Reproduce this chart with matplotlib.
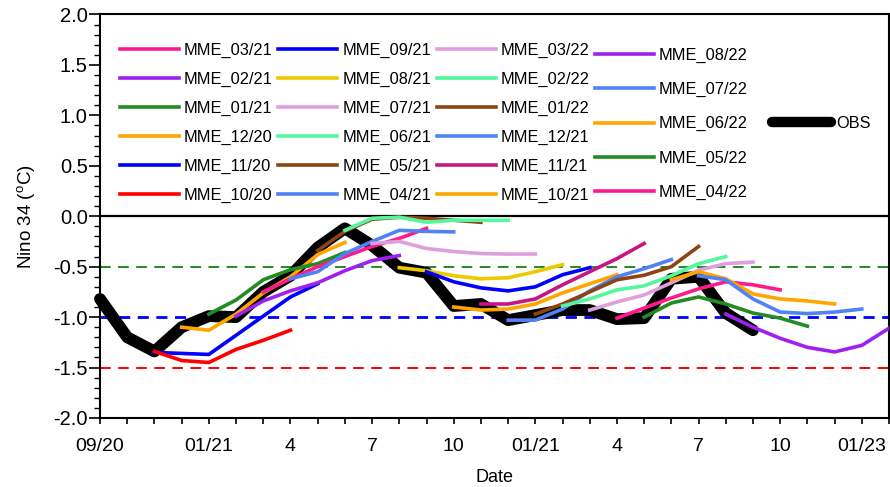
import matplotlib
matplotlib.use("Agg")
import matplotlib.pyplot as plt
from matplotlib.lines import Line2D
from matplotlib.ticker import MultipleLocator

plt.rcParams['font.family'] = ['Liberation Sans', 'DejaVu Sans']
plt.rcParams['mathtext.fontset'] = 'custom'
plt.rcParams['mathtext.rm'] = 'Liberation Sans'

# month index 0 = 09/2020
obs = [-0.82, -1.20, -1.34, -1.10, -0.99, -1.00, -0.75, -0.59, -0.31, -0.12,
       -0.29, -0.51, -0.56, -0.89, -0.87, -1.03, -0.98, -0.93, -0.93, -1.02,
       -1.01, -0.62, -0.60, -0.96, -1.13]

# forecast runs: first plotted month index, then monthly values
start_10_20, mme_10_20 = 2, [-1.34, -1.43, -1.45, -1.32, -1.23, -1.13]
start_11_20, mme_11_20 = 2, [-1.35, -1.36, -1.37, -1.18, -0.99, -0.80, -0.67]
start_12_20, mme_12_20 = 3, [-1.10, -1.13, -0.97, -0.76, -0.60, -0.38, -0.26]
start_01_21, mme_01_21 = 4, [-0.97, -0.83, -0.63, -0.53, -0.47, -0.36]
start_02_21, mme_02_21 = 5, [-0.99, -0.84, -0.74, -0.66, -0.54, -0.44, -0.39]
start_03_21, mme_03_21 = 6, [-0.75, -0.62, -0.50, -0.40, -0.30, -0.22, -0.12]
start_04_21, mme_04_21 = 7, [-0.62, -0.55, -0.37, -0.25, -0.14, -0.15, -0.155]
start_05_21, mme_05_21 = 8, [-0.34, -0.15, -0.03, -0.01, -0.02, -0.04, -0.06]
start_06_21, mme_06_21 = 9, [-0.14, -0.02, -0.01, -0.06, -0.04, -0.04, -0.04]
start_07_21, mme_07_21 = 10, [-0.27, -0.25, -0.32, -0.35, -0.37, -0.375, -0.375]
start_08_21, mme_08_21 = 11, [-0.51, -0.54, -0.59, -0.62, -0.61, -0.55, -0.48]
start_09_21, mme_09_21 = 12, [-0.55, -0.65, -0.71, -0.74, -0.70, -0.58, -0.51]
start_10_21, mme_10_21 = 13, [-0.90, -0.93, -0.92, -0.87, -0.76, -0.67, -0.58]
start_11_21, mme_11_21 = 14, [-0.87, -0.87, -0.82, -0.68, -0.55, -0.42, -0.27]
start_12_21, mme_12_21 = 15, [-1.03, -1.03, -0.92, -0.74, -0.60, -0.52, -0.43]
start_01_22, mme_01_22 = 16, [-0.97, -0.87, -0.75, -0.63, -0.585, -0.50, -0.30]
start_02_22, mme_02_22 = 17, [-0.89, -0.82, -0.73, -0.69, -0.59, -0.47, -0.40]
start_03_22, mme_03_22 = 18, [-0.93, -0.85, -0.78, -0.66, -0.535, -0.47, -0.455]
start_04_22, mme_04_22 = 19, [-1.01, -0.91, -0.81, -0.72, -0.65, -0.68, -0.73]
start_05_22, mme_05_22 = 20, [-1.00, -0.86, -0.80, -0.87, -0.96, -1.01, -1.09]
start_06_22, mme_06_22 = 21, [-0.63, -0.55, -0.62, -0.77, -0.82, -0.84, -0.87]
start_07_22, mme_07_22 = 22, [-0.59, -0.63, -0.82, -0.95, -0.965, -0.95, -0.92]
start_08_22, mme_08_22 = 23, [-0.97, -1.10, -1.21, -1.30, -1.345, -1.28, -1.11]

tick_pos = [0, 4, 7, 10, 13, 16, 19, 22, 25, 28]
tick_lab = ['09/20', '01/21', '4', '7', '10', '01/21', '4', '7', '10', '01/23']

DEEPPINK = '#ff1a8c'
PURPLE = '#a020f0'
GREEN = '#228b22'
ORANGE = '#ffa500'
BLUE = '#0000ff'
RED = '#ff0000'
GOLD = '#eec900'
PLUM = '#dda0dd'
SEAFOAM = '#54f79c'
BROWN = '#8b4513'
CORNFLOWER = '#5082f5'
VIOLETRED = '#c71585'

runs = [
    ('MME_03/21', start_03_21, mme_03_21, DEEPPINK),
    ('MME_02/21', start_02_21, mme_02_21, PURPLE),
    ('MME_01/21', start_01_21, mme_01_21, GREEN),
    ('MME_12/20', start_12_20, mme_12_20, ORANGE),
    ('MME_11/20', start_11_20, mme_11_20, BLUE),
    ('MME_10/20', start_10_20, mme_10_20, RED),
    ('MME_09/21', start_09_21, mme_09_21, BLUE),
    ('MME_08/21', start_08_21, mme_08_21, GOLD),
    ('MME_07/21', start_07_21, mme_07_21, PLUM),
    ('MME_06/21', start_06_21, mme_06_21, SEAFOAM),
    ('MME_05/21', start_05_21, mme_05_21, BROWN),
    ('MME_04/21', start_04_21, mme_04_21, CORNFLOWER),
    ('MME_03/22', start_03_22, mme_03_22, PLUM),
    ('MME_02/22', start_02_22, mme_02_22, SEAFOAM),
    ('MME_01/22', start_01_22, mme_01_22, BROWN),
    ('MME_12/21', start_12_21, mme_12_21, CORNFLOWER),
    ('MME_11/21', start_11_21, mme_11_21, VIOLETRED),
    ('MME_10/21', start_10_21, mme_10_21, ORANGE),
]
runs_2022 = [
    ('MME_08/22', start_08_22, mme_08_22, PURPLE),
    ('MME_07/22', start_07_22, mme_07_22, CORNFLOWER),
    ('MME_06/22', start_06_22, mme_06_22, ORANGE),
    ('MME_05/22', start_05_22, mme_05_22, GREEN),
    ('MME_04/22', start_04_22, mme_04_22, DEEPPINK),
]

fig = plt.figure(figsize=(8.9, 4.87), dpi=100)
ax = fig.add_axes([0.1124, 0.1417, 0.8865, 0.8286])

# threshold lines
ax.axhline(0.0, color='black', lw=1.6, zorder=1)
ax.axhline(-0.5, color=GREEN, lw=1.4, ls=(0, (5.5, 3.8)), zorder=1)
ax.axhline(-1.0, color=BLUE, lw=2.0, ls=(0, (4.0, 2.7)), zorder=1)
ax.axhline(-1.5, color=RED, lw=1.4, ls=(0, (5.5, 3.8)), zorder=1)

obs_line, = ax.plot(range(len(obs)), obs, color='black', lw=8.5,
                    solid_capstyle='round', solid_joinstyle='round',
                    label='OBS', zorder=2, clip_on=False)

handles = {}
# older runs first so later starts sit on top
for label, start, vals, color in sorted(runs + runs_2022, key=lambda r: r[1]):
    x = list(range(start, start + len(vals)))
    ln, = ax.plot(x, vals, color=color, lw=2.6, label=label, zorder=3)
    handles[label] = ln

ax.set_xlim(0, 29)
ax.set_ylim(-2.0, 2.0)
ax.set_xticks(range(30))
ax.set_xticklabels([tick_lab[tick_pos.index(i)] if i in tick_pos else ''
                    for i in range(30)])
ax.yaxis.set_major_locator(MultipleLocator(0.5))
ax.yaxis.set_minor_locator(MultipleLocator(0.1))
ax.yaxis.set_major_formatter(plt.FormatStrFormatter('%.1f'))
ax.tick_params(axis='x', direction='out', length=4.5, width=1.2,
               labelsize=14, pad=10)
ax.tick_params(axis='y', which='major', direction='out', length=8, width=1.2,
               labelsize=14.5, pad=0.8)
ax.tick_params(axis='y', which='minor', direction='out', length=4, width=1.0)
for sp in ax.spines.values():
    sp.set_linewidth(1.5)

ax.set_xlabel('Date', fontsize=13, labelpad=10)
ax.set_ylabel(r'Nino 34 ($\mathregular{^{o}}$C)', fontsize=13.5, labelpad=12)

leg_kw = dict(frameon=False, fontsize=11.8, handlelength=3.6,
              handletextpad=0.3, borderpad=0, borderaxespad=0,
              loc='upper left', bbox_transform=fig.transFigure)
leg1 = ax.legend(handles=[handles[r[0]] for r in runs], ncol=3,
                 columnspacing=0.35, labelspacing=0.84,
                 bbox_to_anchor=(120 / 890, 1 - 43 / 487), **leg_kw)
ax.add_artist(leg1)
leg2 = ax.legend(handles=[handles[r[0]] for r in runs_2022],
                 labelspacing=1.16,
                 bbox_to_anchor=(595 / 890, 1 - 48 / 487), **leg_kw)
ax.add_artist(leg2)
obs_handle = Line2D([], [], color='black', lw=7.5, solid_capstyle='round')
ax.legend(handles=[obs_handle], labels=['OBS'],
          bbox_to_anchor=(772 / 890, 1 - 116 / 487), **leg_kw)

fig.savefig('out.png', dpi=100)
